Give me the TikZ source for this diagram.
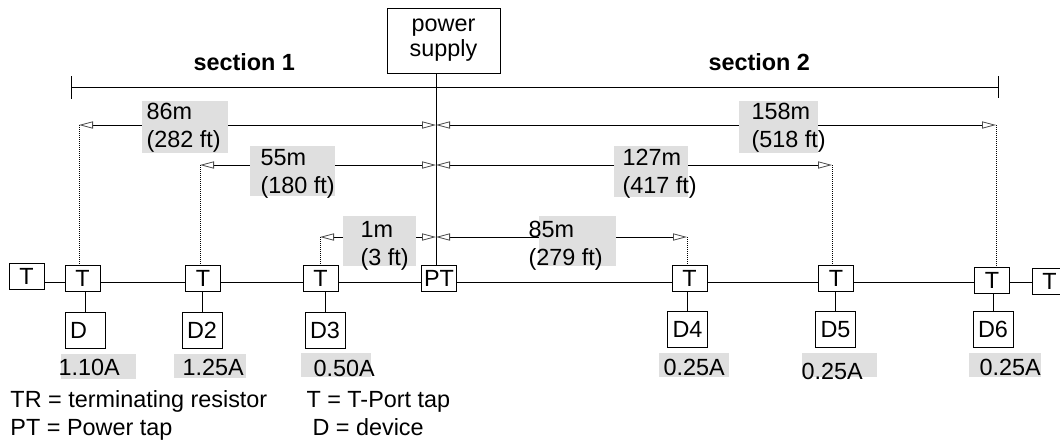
\documentclass[tikz,border=0pt]{standalone}
\usepackage{fontspec}
\setmainfont{Liberation Sans}
\usetikzlibrary{arrows.meta}

\tikzset{
    dimtip/.tip={Triangle[open, length=7pt, width=3.6pt, line width=0.4pt, color=black!70]}
}

\begin{document}
\begin{tikzpicture}[
            x=0.5pt, y=-0.5pt,
            line width=0.5pt,
            every node/.style={font=\fontsize{11.7}{14}\selectfont, inner sep=0pt},
            tapbox/.style={draw, fill=white, minimum width=17.5pt, minimum height=13pt},
            devbox/.style={draw, fill=white, minimum width=20pt, minimum height=18pt},
            supplybox/.style={draw, fill=white, minimum width=56.5pt, minimum height=32.5pt, align=center},
            dimline/.style={dimtip-dimtip},
            leader/.style={dash pattern=on 0.5pt off 0.5pt},
            labelfill/.style={fill=gray!25},
            dimtext/.style={anchor=north west, align=left},
            amptext/.style={anchor=base west},
            keytext/.style={anchor=base west},
            sectext/.style={anchor=base west, font=\fontsize{11.7}{14}\selectfont\bfseries}
        ]
        \useasboundingbox (0,0) rectangle (1060,440);

        \node[supplybox] (ps) at (443.5,40.5) {power\\[-1.5pt]supply};

        \node[tapbox] (tl) at (26.5,276.5) {T};
        \node[tapbox] (t1) at (82.5,278) {T};
        \node[tapbox] (t2) at (203,278) {T};
        \node[tapbox] (t3) at (320.5,278) {T};
        \node[tapbox] (pt) at (439,278) {PT};
        \node[tapbox] (t4) at (689.5,278) {T};
        \node[tapbox] (t5) at (836,278) {T};
        \node[tapbox] (t6) at (992,280) {T};
        \node[tapbox] (tr) at (1049.5,281) {T};

        \node[devbox] (d1) at (85,330) {D\phantom{2}};
        \node[devbox] (d2) at (202,330) {D2};
        \node[devbox] (d3) at (325,330) {D3};
        \node[devbox] (d4) at (687.5,329.5) {D4};
        \node[devbox] (d5) at (835.5,329.5) {D5};
        \node[devbox] (d6) at (993,329.5) {D6};

        \coordinate (busy) at (0,282);
        \coordinate (feed) at (436,0);
        \foreach \a/\b in {tl/t1,t1/t2,t2/t3,t3/pt,pt/t4,t4/t5,t5/t6,t6/tr}
            \draw (\a.east |- busy) -- (\b.west |- busy);
        \foreach \t/\d in {t1/d1,t2/d2,t3/d3,t4/d4,t5/d5,t6/d6}
            \draw (\d.north |- \t.south) -- (\d.north);
        \draw (ps.south -| feed) -- (pt.north -| feed);

        \coordinate (sl) at (71,87);
        \coordinate (sr) at (999,87);
        \draw[{Bar[width=11.5pt]}-{Bar[width=11pt]}] (sl) -- (sr);
        \node[sectext] (sec1) at (193,70) {section 1};
        \node[sectext] (sec2) at (708,70) {section 2};

        \coordinate (c1) at (436,125);
        \coordinate (c2) at (436,165);
        \coordinate (c3) at (436,237);
        \coordinate (a1) at (79,125);
        \coordinate (a2) at (200,165);
        \coordinate (a3) at (320,237);
        \coordinate (b1) at (996,125);
        \coordinate (b2) at (832,165);
        \coordinate (b3) at (687,237);
        \foreach \p in {1,2,3} {
            \draw[dimline] (a\p) -- (c\p);
            \draw[dimline] (c\p) -- (b\p);
        }
        \foreach \e/\t in {a1/t1,a2/t2,a3/t3,b3/t4,b2/t5,b1/t6}
            \draw[leader] (\e) -- (\e |- \t.north);

        \fill[labelfill] (142,101) rectangle (228,153);
        \fill[labelfill] (250,146) rectangle (335,196);
        \fill[labelfill] (739,101) rectangle (818,153);
        \fill[labelfill] (614,146) rectangle (688,197);
        \fill[labelfill] (343,216) rectangle (416,266);
        \fill[labelfill] (539,216) rectangle (616,266);
        \node[dimtext] (l86) at (146,103) {86m\\(282 ft)};
        \node[dimtext] (l55) at (260,149) {55m\\(180 ft)};
        \node[dimtext] (l158) at (751,103) {158m\\(518 ft)};
        \node[dimtext] (l127) at (622,149) {127m\\(417 ft)};
        \node[dimtext] (l1) at (360,221) {1m\\(3 ft)};
        \node[dimtext] (l85) at (528,221) {85m\\(279 ft)};

        \fill[labelfill] (61,354) rectangle (136,379);
        \fill[labelfill] (174,354) rectangle (246,378);
        \fill[labelfill] (301,353) rectangle (371,377);
        \fill[labelfill] (659,353) rectangle (729,377);
        \fill[labelfill] (802,353) rectangle (877,377);
        \fill[labelfill] (969,353) rectangle (1041,377);
        \node[amptext] (i1) at (58,375) {1.10A};
        \node[amptext] (i2) at (182,375) {1.25A};
        \node[amptext] (i3) at (313,376) {0.50A};
        \node[amptext] (i4) at (663,375) {0.25A};
        \node[amptext] (i5) at (801,379) {0.25A};
        \node[amptext] (i6) at (979,375) {0.25A};

        \node[keytext] (k1) at (10,407) {TR = terminating resistor};
        \node[keytext] (k2) at (10,435) {PT = Power tap};
        \node[keytext] (k3) at (306,407) {T = T-Port tap};
        \node[keytext] (k4) at (312,435) {D = device};
    \end{tikzpicture}
\end{document}
